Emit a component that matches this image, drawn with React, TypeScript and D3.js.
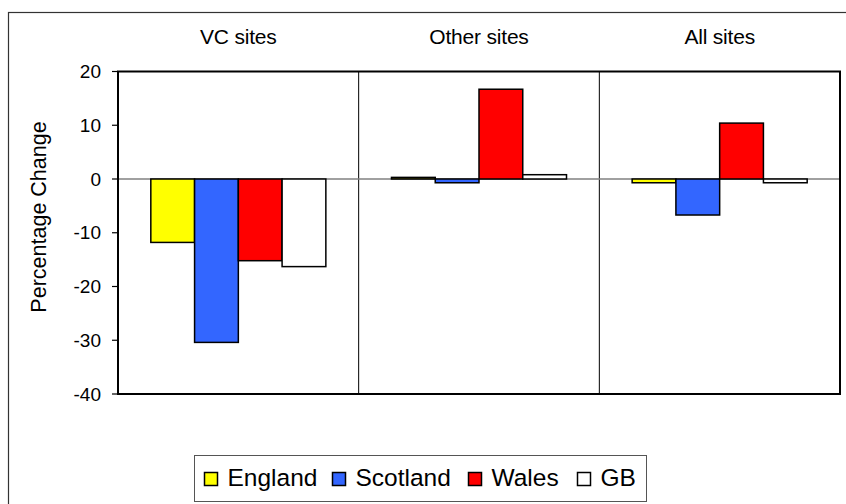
import React from "react";
import * as d3 from "d3";

const categories = ["VC sites", "Other sites", "All sites"];
const seriesNames = ["England", "Scotland", "Wales", "GB"];
const seriesColors = ["#ffff00", "#3366ff", "#ff0000", "#ffffff"];

const england = [-11.8, 0.3, -0.7];
const scotland = [-30.4, -0.7, -6.7];
const wales = [-15.2, 16.7, 10.4];
const gb = [-16.3, 0.8, -0.7];

const yTicks = [20, 10, 0, -10, -20, -30, -40];

const font = "'Liberation Sans', Arial, sans-serif";

export default function App() {
    const width = 846, height = 504;
    const left = 118, right = 840, top = 71.5, bottom = 394;

    const values = [england, scotland, wales, gb];

    // category scale
    const xScale = d3.scaleBand()
        .domain(categories)
        .range([left, right])
        .padding(0);

    // series inside each category, gap width like excel 150%
    const sScale = d3.scaleBand()
        .domain(seriesNames)
        .range([0, xScale.bandwidth()])
        .paddingInner(0)
        .paddingOuter(0.75);

    const yScale = d3.scaleLinear()
        .domain([-40, 20])
        .range([bottom, top]);

    const y0 = yScale(0);

    // legend item x positions (swatch left)
    const legendX = [204, 332, 468, 577];

    return (
        <svg width={width} height={height} style={{position: "absolute", left: 0, top: 0}} fontFamily={font}>
            <rect x={0} y={0} width={width} height={height} fill="#ffffff"/>
            {/* outer chart border, runs off the page */}
            <rect x={8.5} y={12.5} width={width + 10} height={height + 10} fill="none" stroke="#333" strokeWidth={1.2}/>

            {/* category labels */}
            {categories.map(c => (
                <text key={c} x={xScale(c)! + xScale.bandwidth() / 2} y={44} textAnchor="middle" fontSize={21}
                      letterSpacing={-0.2}>{c}</text>
            ))}

            {/* dividers */}
            {categories.slice(1).map(c => (
                <line key={c} x1={xScale(c)} x2={xScale(c)} y1={top} y2={bottom} stroke="#000" strokeWidth={1}/>
            ))}

            {/* zero line */}
            <line x1={left} x2={right} y1={y0} y2={y0} stroke="#808080" strokeWidth={1.5}/>

            {/* bars */}
            {values.map((vals, si) => vals.map((v, ci) => {
                const x = xScale(categories[ci])! + sScale(seriesNames[si])!;
                const y = Math.min(yScale(v), y0);
                const h = Math.abs(yScale(v) - y0);
                return <rect key={si + "-" + ci} x={x} y={y} width={sScale.bandwidth()} height={h}
                             fill={seriesColors[si]} stroke="#000" strokeWidth={1.5}/>;
            }))}

            {/* plot frame */}
            <rect x={left} y={top} width={right - left} height={bottom - top} fill="none" stroke="#000" strokeWidth={2}/>

            {/* y ticks */}
            {yTicks.map(t => (
                <g key={t} transform={`translate(0,${yScale(t)})`}>
                    <line x1={112} x2={left} y1={0} y2={0} stroke="#000" strokeWidth={1.2}/>
                    <text x={101} y={0} dy="0.35em" textAnchor="end" fontSize={19}>{t}</text>
                </g>
            ))}

            <text transform={`translate(46,217) rotate(-90)`} textAnchor="middle" fontSize={21.5}>
                Percentage Change
            </text>

            {/* legend */}
            <g>
                <rect x={194.5} y={455.5} width={452} height={46} fill="#fff" stroke="#555" strokeWidth={1}/>
                {seriesNames.map((s, i) => (
                    <g key={s}>
                        <rect x={legendX[i] + 0.5} y={472.5} width={13} height={13} fill={seriesColors[i]} stroke="#000" strokeWidth={1.5}/>
                        <text x={legendX[i] + 23.5} y={486} fontSize={24.5}>{s}</text>
                    </g>
                ))}
            </g>
        </svg>
    );
}
